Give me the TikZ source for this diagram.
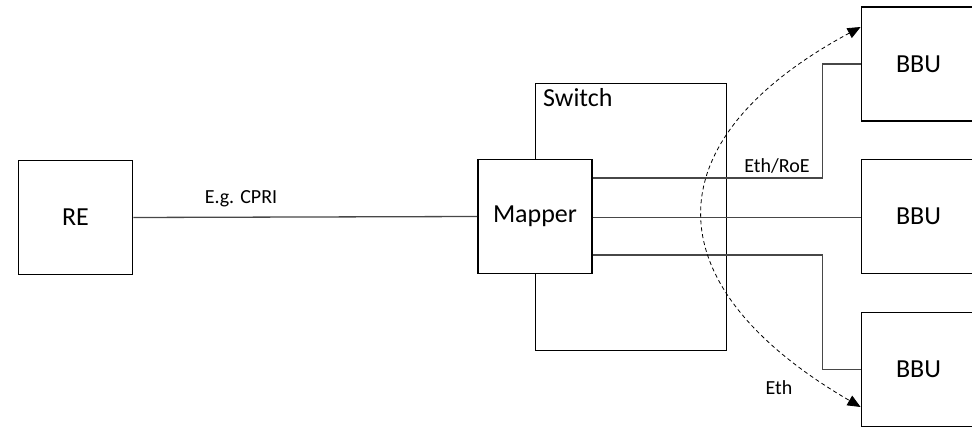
\documentclass[tikz,border=0pt]{standalone}
\usepackage{fontspec}
\setmainfont{Carlito}
\usetikzlibrary{arrows.meta,calc}
\begin{document}
\begin{tikzpicture}[x=1pt,y=-1pt,
  box/.style={draw=black, line width=1.8pt, fill=white, minimum width=114pt, minimum height=114pt, inner sep=0pt, font=\fontsize{26}{31}\selectfont},
  conn/.style={draw=black!72, line width=1.3pt},
  lbl/.style={font=\fontsize{20}{24}\selectfont, inner sep=0pt},
  arcconn/.style={draw=black, line width=0.8pt, dash pattern=on 4pt off 3pt, {Triangle[length=13pt,width=11pt]}-{Triangle[length=13pt,width=11pt]}}]
\useasboundingbox (0,0) rectangle (972,427);
% boxes
\node[box] (re) at (75.5,217.5) {RE};
\node[draw=black, line width=1.8pt, minimum width=191pt, minimum height=267pt, inner sep=0pt] (switch) at (631,217) {};
\node[anchor=base west, inner sep=0pt, font=\fontsize{26}{31}\selectfont] (swlabel) at (543,107) {Switch};
\node[box] (mapper) at (535,216.5) {Mapper};
\node[box] (bbu1) at (918.5,64) {BBU};
\node[box] (bbu2) at (918.5,216.5) {BBU};
\node[box] (bbu3) at (918.5,369.5) {BBU};
% connectors
\draw[conn] (re.east) -- (mapper.west);
\draw[conn] ([yshift=38.5pt]mapper.east) -| ([xshift=-38pt]bbu1.west) -- (bbu1.west);
\draw[conn] ([yshift=-1pt]mapper.east) -- ([yshift=-1pt]bbu2.west);
\draw[conn] ([yshift=-38.5pt]mapper.east) -| ([xshift=-38pt]bbu3.west) -- (bbu3.west);
% labels
\node[lbl, anchor=base] (cpri) at (241,204) {E.g. CPRI};
\node[lbl, anchor=base] (ethroe) at (777,173) {Eth/RoE};
\node[lbl, anchor=base] (eth) at (779,395) {Eth};
% dashed arc
\coordinate (a1) at ([yshift=37pt]bbu1.west);
\coordinate (a3) at ([yshift=-37.5pt]bbu3.west);
\draw[arcconn] (a1) .. controls (651,140) and (651,285) .. (a3);
\end{tikzpicture}
\end{document}
